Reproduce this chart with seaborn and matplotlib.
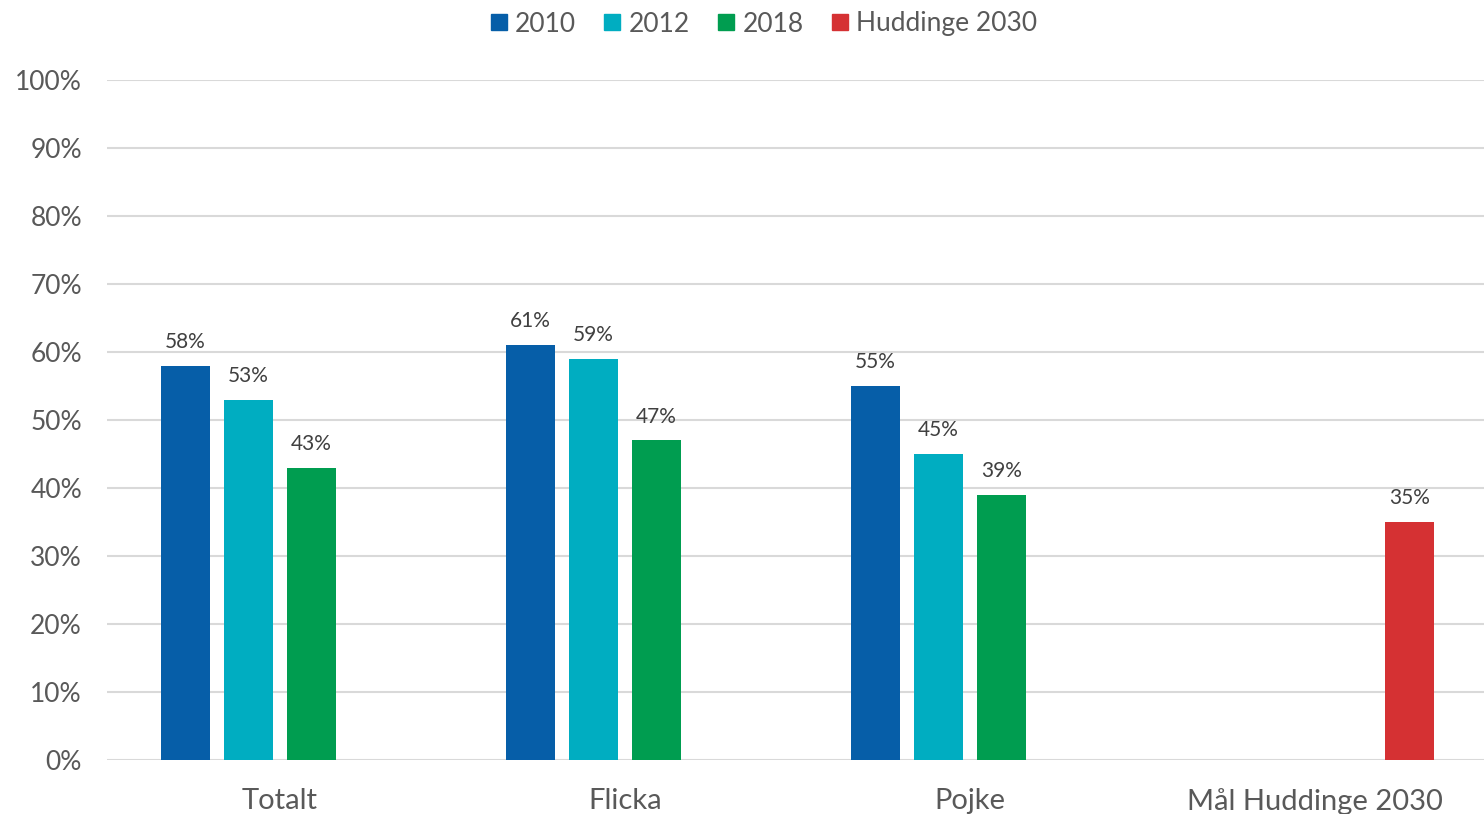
import matplotlib
matplotlib.use("Agg")
import matplotlib.pyplot as plt
import seaborn as sns
import pandas as pd
from matplotlib.lines import Line2D
from matplotlib.ticker import PercentFormatter

categories = ["Totalt", "Flicka", "Pojke", "Mål Huddinge 2030"]
series = ["2010", "2012", "2018", "Huddinge 2030"]
values_2010 = [58, 61, 55]
values_2012 = [53, 59, 45]
values_2018 = [43, 47, 39]
values_goal = [35]
colors = ["#065EA8", "#00ADC1", "#009D50", "#D53133"]

rows = []
for cat, v in zip(categories[:3], values_2010):
    rows.append((cat, "2010", v))
for cat, v in zip(categories[:3], values_2012):
    rows.append((cat, "2012", v))
for cat, v in zip(categories[:3], values_2018):
    rows.append((cat, "2018", v))
rows.append((categories[3], "Huddinge 2030", values_goal[0]))
df = pd.DataFrame(rows, columns=["kategori", "serie", "andel"])

sns.set_theme(style="white")
plt.rcParams["font.family"] = ["Lato", "DejaVu Sans"]

fig = plt.figure(figsize=(14.84, 8.14), dpi=100)
# the plot area runs slightly past the right edge of the figure
ax = fig.add_axes([107 / 1484, 54 / 814, 1381 / 1484, 680 / 814])

sns.barplot(data=df, x="kategori", y="andel", hue="serie",
            order=categories, hue_order=series, palette=colors,
            width=0.73, gap=0.22, saturation=1, ax=ax, legend=False,
            edgecolor="none", linewidth=0, zorder=3)

for cont in ax.containers:
    ax.bar_label(cont, labels=[f"{v:.0f}%" for v in cont.datavalues],
                 padding=10, fontsize=15, color="#404040")

ax.set_ylim(0, 100)
ax.set_xlim(-0.5, 3.5)
ax.set_yticks(range(0, 101, 10))
ax.yaxis.set_major_formatter(PercentFormatter(decimals=0))
ax.grid(axis="y", color="#D9D9D9", linewidth=1.5, zorder=0)
ax.set_axisbelow(True)
for s in ax.spines.values():
    s.set_visible(False)
ax.set_xlabel("")
ax.set_ylabel("")
ax.tick_params(axis="y", length=0, pad=18, labelsize=19, labelcolor="#595959")
ax.tick_params(axis="x", length=0, pad=20, labelsize=21, labelcolor="#595959")

handles = [Line2D([], [], marker="s", linestyle="none", markersize=11,
                  markerfacecolor=c, markeredgecolor=c) for c in colors]
fig.legend(handles, series, loc="center", bbox_to_anchor=(764 / 1484, 1 - 24 / 814),
           ncol=4, frameon=False, fontsize=19, labelcolor="#595959",
           handlelength=0.6, handletextpad=0.3, columnspacing=1.1, borderpad=0)

fig.savefig("out.png", dpi=100)
